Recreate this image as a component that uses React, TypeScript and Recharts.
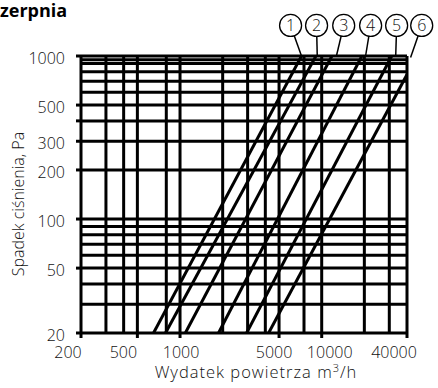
import React from 'react';
import { LineChart, Line, XAxis, YAxis, ReferenceLine, ReferenceDot } from 'recharts';

// grid lines (m3/h and Pa)
const flowGrid = [200, 300, 400, 500, 800, 1000, 2000, 3000, 4000, 5000, 7500, 10000, 20000, 30000, 40000];
const pressureGrid = [20, 30, 40, 50, 60, 70, 80, 90, 100, 200, 300, 400, 500, 600, 700, 800, 900, 950, 1000];

// axis ticks
const flowTicks = [200, 500, 1000, 5000, 10000, 40000];
const pressureTicks = [20, 50, 100, 200, 300, 400, 500, 1000];
const pressureLabels = [20, 50, 100, 200, 300, 500, 1000];

// characteristic curves: start at 20 Pa, end on the top / right edge
const curveNames = ['1', '2', '3', '4', '5', '6'];
const curveStartFlow = [650, 790, 1090, 1870, 2950, 4220];
const curveEndFlow = [7200, 9100, 11800, 19200, 31200, 40000];
const curveEndPressure = [1000, 1000, 1000, 1000, 1000, 770];

// numbered badges above the plot and their pointers
const badgeFlow = [6030, 9200, 14300, 22150, 33800, 50800];
const badgePressure = 1540;
const pointerFlow = [7200, 9300, 12700, 20400, 33300, 42400];
const pointerPressure = [1000, 1000, 1000, 1000, 1000, 980];

const FONT = '"Open Sans", "Liberation Sans", sans-serif';
const INK = '#111';

const curves = curveNames.map((name, i) => ({
  name,
  data: [
    { q: curveStartFlow[i], p: 20 },
    { q: curveEndFlow[i], p: curveEndPressure[i] },
  ],
}));

// label nudges so they sit like in the printed chart
const xTickShift: Record<number, number> = { 200: -13, 500: -14, 1000: 1, 5000: -5, 10000: 8, 40000: -13 };

const XTick = ({ x, y, payload }: any) => (
  <text x={x + (xTickShift[payload.value] || 0)} y={y + 18} textAnchor="middle"
    fontFamily={FONT} fontSize={16} fontWeight={300} fill={INK}>
    {payload.value}
  </text>
);

const YTick = ({ x, y, payload }: any) => {
  if (!pressureLabels.includes(payload.value)) return <g />;
  return (
    <text x={x} y={y + 2} textAnchor="end" dominantBaseline="central"
      fontFamily={FONT} fontSize={16} fontWeight={300} fill={INK}>
      {payload.value}
    </text>
  );
};

export default function App() {
  return (
    <div style={{ width: 438, height: 388, overflow: 'hidden' }}>
      <style>{'html, body { margin: 0; padding: 0; }'}</style>
      <LineChart width={438} height={388} margin={{ top: 56, right: 31, left: 0, bottom: 0 }}>
        <XAxis
          dataKey="q" type="number" scale="log" domain={[200, 40000]} allowDataOverflow
          ticks={flowTicks} tick={<XTick />} interval={0}
          axisLine={false} tickLine={{ stroke: '#000', strokeWidth: 3 }} tickSize={5} tickMargin={2}
          height={55}
        />
        <YAxis
          dataKey="p" type="number" scale="log" domain={[20, 1000]} allowDataOverflow
          ticks={pressureTicks} tick={<YTick />} interval={0}
          axisLine={false} tickLine={{ stroke: '#000', strokeWidth: 3 }} tickSize={5} tickMargin={11}
          width={81}
        />
        {flowGrid.map((q) => (
          <ReferenceLine key={`vx-${q}`} x={q} stroke="#000" strokeWidth={3} ifOverflow="visible" />
        ))}
        {pressureGrid.map((p) => (
          <ReferenceLine key={`hy-${p}`} y={p} stroke="#000" strokeWidth={3} ifOverflow="visible" />
        ))}
        {curves.map((c) => (
          <Line key={c.name} data={c.data} dataKey="p" name={c.name} type="linear"
            stroke="#000" strokeWidth={3} dot={false} activeDot={false} isAnimationActive={false} />
        ))}
        {curveNames.map((n, i) => (
          <ReferenceLine key={`ptr-${n}`} ifOverflow="visible" stroke="#000" strokeWidth={1.5}
            segment={[{ x: badgeFlow[i], y: badgePressure }, { x: pointerFlow[i], y: pointerPressure[i] }]} />
        ))}
        {curveNames.map((n, i) => (
          <ReferenceDot key={`badge-${n}`} x={badgeFlow[i]} y={badgePressure} r={11}
            fill="#fff" stroke="#000" strokeWidth={1.3} ifOverflow="visible"
            label={{ value: n, position: 'center', fontSize: 16, fontFamily: FONT, fontWeight: 300, fill: INK }} />
        ))}
        <text x={0} y={17} fontFamily={FONT} fontSize={18} fontWeight={700} fill="#000">zerpnia</text>
        <text x={18} y={204} transform="rotate(-90, 18, 204)" textAnchor="middle" dominantBaseline="central"
          fontFamily={FONT} fontSize={16} fontWeight={300} fill={INK}>
          Spadek ciśnienia, Pa
        </text>
        <text x={256} y={378} textAnchor="middle" fontFamily={FONT} fontSize={16.5} fontWeight={300}
          letterSpacing={1} fill={INK}>
          Wydatek powietrza m<tspan dy={-6} fontSize={11}>3</tspan><tspan dy={6}>/h</tspan>
        </text>
      </LineChart>
    </div>
  );
}
